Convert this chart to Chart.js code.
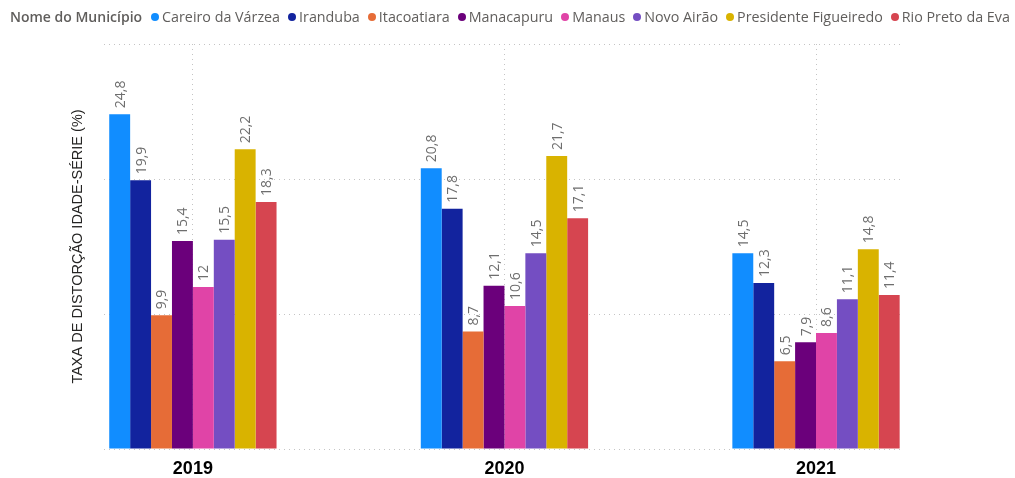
<!DOCTYPE html>
<html>
<head>
<meta charset="utf-8">
<script src="https://cdn.jsdelivr.net/npm/chart.js@4.4.1/dist/chart.umd.min.js"></script>
<style>
  html, body { margin: 0; padding: 0; background: #fff; }
  #wrap { position: relative; width: 1015px; height: 478px; overflow: hidden; }
  canvas { position: absolute; left: 0; top: 0; }
  #legend {
    position: absolute; left: 10px; top: 8px;
    display: flex; align-items: center;
    font-family: 'Open Sans', sans-serif; font-size: 14.3px; line-height: 18px;
    color: #605E5C; white-space: nowrap;
  }
  #legend .title { font-size: 14px; font-weight: 600; color: #605E5C; margin-right: 9px; }
  #legend .item { display: flex; align-items: center; margin-right: 8px; }
  #legend .dot { width: 8px; height: 8px; border-radius: 50%; margin-right: 3px; }
</style>
</head>
<body>
<div id="wrap">
  <canvas id="c" width="1015" height="478"></canvas>
  <div id="legend"></div>
</div>
<script>
// Anos (categorias do eixo X)
const years = ['2019', '2020', '2021'];

// Municípios e cores da série
const municipios = ['Careiro da Várzea', 'Iranduba', 'Itacoatiara', 'Manacapuru',
                    'Manaus', 'Novo Airão', 'Presidente Figueiredo', 'Rio Preto da Eva'];
const colors = ['#118DFF', '#12239E', '#E66C37', '#6B007B',
                '#E044A7', '#744EC2', '#D9B300', '#D64550'];

// Taxa de distorção idade-série (%) por ano: 2019, 2020, 2021
const careiroDaVarzea      = [24.8, 20.8, 14.5];
const iranduba             = [19.9, 17.8, 12.3];
const itacoatiara          = [9.9, 8.7, 6.5];
const manacapuru           = [15.4, 12.1, 7.9];
const manaus               = [12, 10.6, 8.6];
const novoAirao            = [15.5, 14.5, 11.1];
const presidenteFigueiredo = [22.2, 21.7, 14.8];
const rioPretoDaEva        = [18.3, 17.1, 11.4];

const series = [careiroDaVarzea, iranduba, itacoatiara, manacapuru,
                manaus, novoAirao, presidenteFigueiredo, rioPretoDaEva];

const yTitle = 'TAXA DE DISTORÇÃO IDADE-SÉRIE (%)';
const legendTitle = 'Nome do Município';

// Legenda em HTML
const legend = document.getElementById('legend');
const t = document.createElement('span');
t.className = 'title';
t.textContent = legendTitle;
legend.appendChild(t);
municipios.forEach((m, k) => {
  const item = document.createElement('span');
  item.className = 'item';
  const dot = document.createElement('span');
  dot.className = 'dot';
  dot.style.background = colors[k];
  const txt = document.createElement('span');
  txt.textContent = m;
  item.appendChild(dot);
  item.appendChild(txt);
  legend.appendChild(item);
});

const fmt = v => String(v).replace('.', ',');

// Rótulos de valor verticais acima de cada barra
const valueLabels = {
  id: 'valueLabels',
  afterDatasetsDraw(chart) {
    const ctx = chart.ctx;
    ctx.save();
    ctx.font = '14px "Open Sans"';
    ctx.fillStyle = '#6e6e6e';
    ctx.textAlign = 'left';
    ctx.textBaseline = 'middle';
    chart.data.datasets.forEach((ds, k) => {
      chart.getDatasetMeta(k).data.forEach((bar, i) => {
        ctx.save();
        ctx.translate(bar.x + 1, bar.y - 6);
        ctx.rotate(-Math.PI / 2);
        ctx.fillText(fmt(series[k][i]), 0, 0);
        ctx.restore();
      });
    });
    ctx.restore();
  }
};

const gridColor = '#c4c4c4';

new Chart(document.getElementById('c'), {
  type: 'bar',
  data: {
    datasets: municipios.map((m, k) => ({
      label: m,
      data: series[k].map((v, i) => ({ x: i, y: v })),
      backgroundColor: colors[k],
      borderWidth: 0,
      categoryPercentage: 0.537,
      barPercentage: 1
    }))
  },
  options: {
    responsive: false,
    animation: false,
    layout: { padding: { left: 69, right: 113, top: 44, bottom: 0 } },
    plugins: { legend: { display: false }, tooltip: { enabled: false } },
    scales: {
      x: {
        type: 'linear',
        min: -0.284,
        max: 2.276,
        offset: false,
        grid: { display: true, offset: false, drawTicks: false, color: gridColor, lineWidth: 1 },
        border: { display: false, dash: [1, 4] },
        afterBuildTicks: s => { s.ticks = years.map((y, i) => ({ value: i })); },
        afterFit: s => { s.height = 29; },
        ticks: {
          callback: v => years[v],
          padding: 9,
          autoSkip: false,
          maxRotation: 0,
          color: '#000',
          font: { family: 'Liberation Sans', size: 18, weight: 'bold' }
        }
      },
      y: {
        min: 0,
        max: 30,
        ticks: { display: false, stepSize: 10 },
        grid: { drawTicks: false, color: gridColor, lineWidth: 1 },
        border: { display: false, dash: [1, 4] },
        title: {
          display: true,
          text: yTitle,
          color: '#252423',
          font: { family: 'Liberation Sans', size: 14.5 },
          padding: { top: 0, bottom: 18 }
        }
      }
    }
  },
  plugins: [valueLabels]
});
</script>
</body>
</html>
